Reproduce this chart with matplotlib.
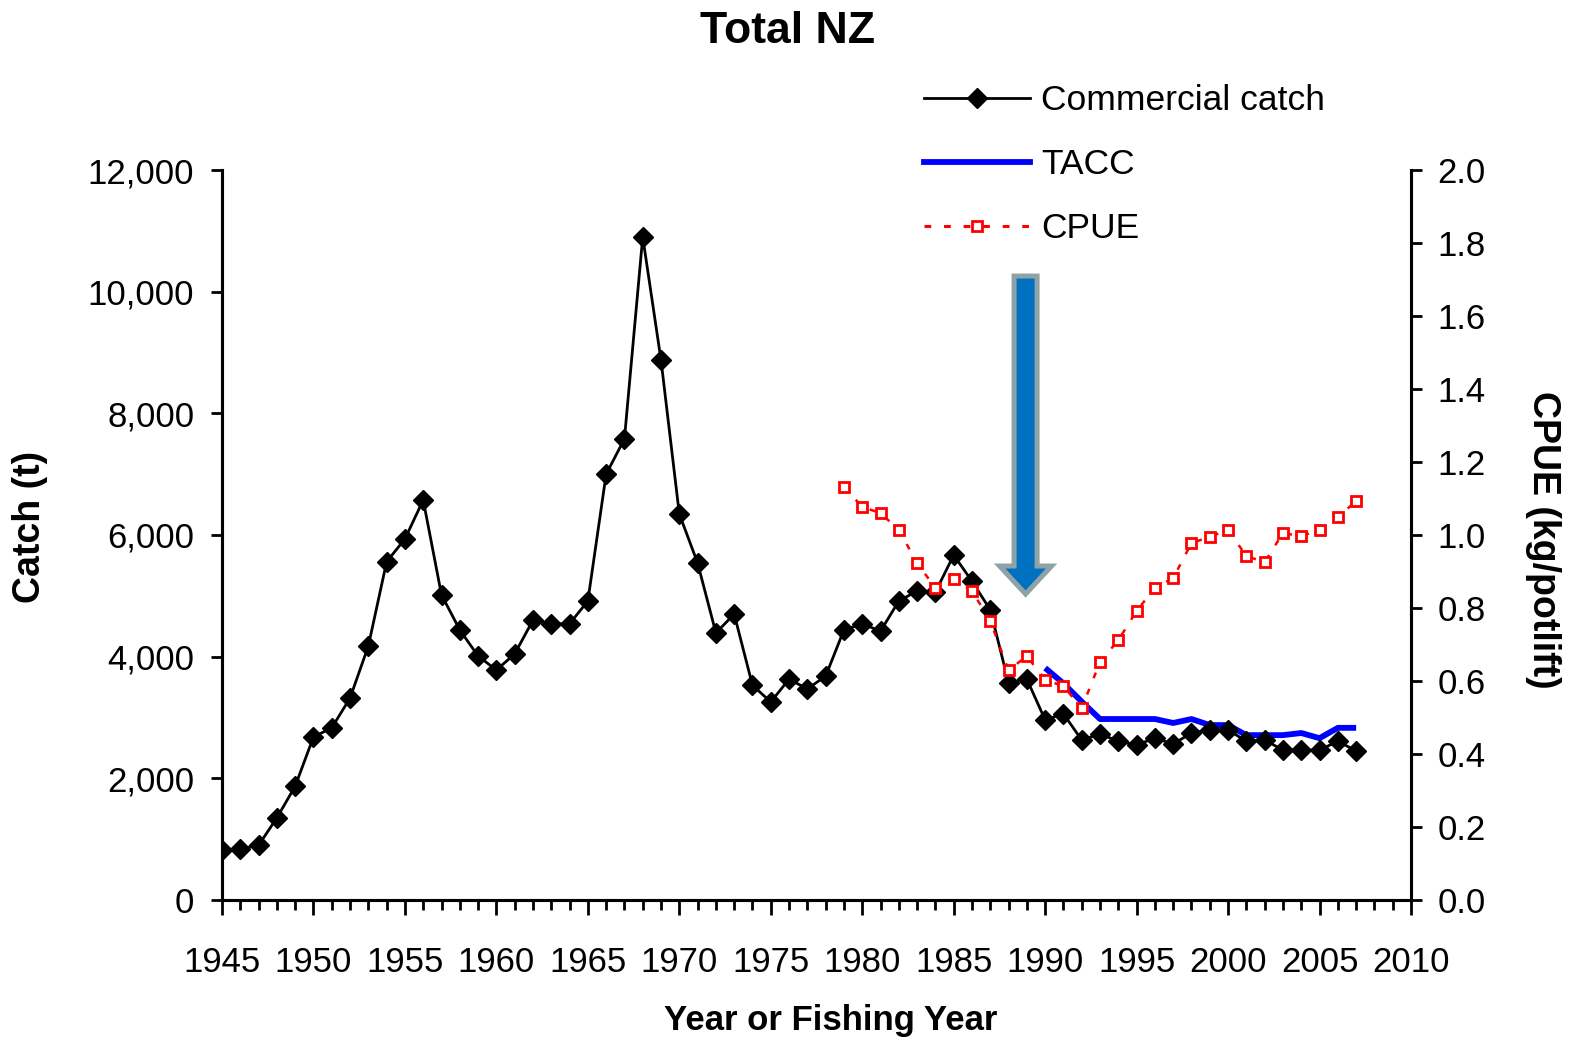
import matplotlib
matplotlib.use("Agg")
import matplotlib.pyplot as plt
from matplotlib.patches import Polygon
from matplotlib.lines import Line2D
from matplotlib.ticker import MultipleLocator, FuncFormatter

plt.rcParams['font.family'] = ['Liberation Sans', 'DejaVu Sans']

# ---- data ----
catch_years = list(range(1945, 2008))
catch = [820, 840, 900, 1350, 1870, 2680, 2830, 3320, 4175, 5560,
         5935, 6575, 5015, 4440, 4010, 3780, 4045, 4600, 4540, 4540,
         4915, 7000, 7580, 10900, 8875, 6345, 5540, 4390, 4700, 3530,
         3255, 3630, 3470, 3680, 4440, 4540, 4420, 4915, 5080, 5060,
         5670, 5240, 4770, 3570, 3630, 2960, 3060, 2630, 2730, 2610,
         2550, 2660, 2565, 2745, 2795, 2795, 2610, 2630, 2465, 2465,
         2465, 2610, 2450]

tacc_years = list(range(1990, 2008))
tacc = [3814, 3560, 3260, 2975, 2975, 2975, 2975, 2910, 2975, 2875,
        2875, 2710, 2710, 2710, 2745, 2660, 2830, 2830]

cpue_years = list(range(1979, 2008))
cpue = [1.132, 1.077, 1.060, 1.014, 0.923, 0.855, 0.879, 0.847, 0.764, 0.630,
        0.668, 0.603, 0.586, 0.526, 0.652, 0.712, 0.792, 0.855, 0.882, 0.978,
        0.995, 1.014, 0.942, 0.926, 1.005, 0.997, 1.014, 1.049, 1.093]

title = "Total NZ"
xlabel = "Year or Fishing Year"
ylabel_left = "Catch (t)"
ylabel_right = "CPUE (kg/potlift)"
labels = ["Commercial catch", "TACC", "CPUE"]

# arrow annotation (marks management change)
arrow_year = 1988.93
arrow_top = 10257
arrow_head_base = 5490
arrow_tip = 5030
shaft_half = 0.63
head_half = 1.42

# ---- figure ----
W, H = 1570, 1044
fig = plt.figure(figsize=(W / 100, H / 100), dpi=100)
ax = fig.add_axes([222 / W, 1 - 900 / H, (1411 - 222) / W, (900 - 170) / H])
ax2 = ax.twinx()

ax.plot(tacc_years, tacc, color='#0000FF', lw=4.2, solid_capstyle='butt', zorder=2)
ax.plot(catch_years, catch, color='black', lw=2, marker='D', ms=10.5,
        mfc='black', mec='black', zorder=3)
ax2.plot(cpue_years, cpue, color='#FF0000', lw=1.8, linestyle=(0, (2.4, 4.6)),
         marker='s', ms=7, mfc='white', mec='#FF0000', mew=2)

ax.set_xlim(1945, 2010)
ax.set_ylim(0, 12000)
ax2.set_ylim(0, 2.0)

ax.xaxis.set_major_locator(MultipleLocator(5))
ax.xaxis.set_minor_locator(MultipleLocator(1))
ax.yaxis.set_major_locator(MultipleLocator(2000))
ax2.yaxis.set_major_locator(MultipleLocator(0.2))
ax.yaxis.set_major_formatter(FuncFormatter(lambda v, p: f"{int(v):,}"))
ax2.yaxis.set_major_formatter(FuncFormatter(lambda v, p: f"{v:.1f}"))

for a in (ax, ax2):
    a.spines['top'].set_visible(False)
    for s in a.spines.values():
        s.set_linewidth(2.2)

ax.tick_params(axis='x', which='major', direction='out', length=11, width=2,
               labelsize=25, pad=22)
ax.tick_params(axis='x', which='minor', direction='out', length=7.5, width=2)
ax.tick_params(axis='y', which='major', direction='out', length=8, width=2,
               labelsize=25, pad=12)
ax2.tick_params(axis='y', which='major', direction='out', length=8, width=2,
                labelsize=25, pad=11)

bold_family = ['Liberation Sans Narrow', 'Liberation Sans', 'DejaVu Sans']
ax.set_xlabel(xlabel, fontsize=25, fontweight='bold', family=bold_family)
ax.xaxis.set_label_coords((831 - 222) / 1189, -(1004 - 900) / 730)
ax.set_ylabel(ylabel_left, fontsize=27, fontweight='bold', family=bold_family,
              va='center', ha='center')
ax.yaxis.set_label_coords((30 - 222) / 1189, (900 - 527) / 730)
ax2.set_ylabel(ylabel_right, fontsize=27, fontweight='bold', family=bold_family,
               rotation=270, va='center', ha='center')
ax2.yaxis.set_label_coords((1543 - 222) / 1189, (900 - 540) / 730)

fig.text(788 / W, 1 - 43 / H, title, ha='center', va='baseline',
         fontsize=32, fontweight='bold', family=bold_family)

# arrow
pts = [
    (arrow_year - shaft_half, arrow_top),
    (arrow_year + shaft_half, arrow_top),
    (arrow_year + shaft_half, arrow_head_base),
    (arrow_year + head_half, arrow_head_base),
    (arrow_year, arrow_tip),
    (arrow_year - head_half, arrow_head_base),
    (arrow_year - shaft_half, arrow_head_base),
]
ax.add_patch(Polygon(pts, closed=True, facecolor='#0070C0', edgecolor='#8FA3A7',
                     lw=3.6, joinstyle='miter', zorder=4))

handles = [
    Line2D([], [], color='black', lw=2, marker='D', ms=10.5, mfc='black'),
    Line2D([], [], color='#0000FF', lw=4.2),
    Line2D([], [], color='#FF0000', lw=2.2, linestyle=(0, (2.2, 4.2)), marker='s',
           ms=7, mfc='white', mec='#FF0000', mew=2),
]
fig.legend(handles, labels, loc='upper left', bbox_to_anchor=(924 / W, 1 - 84 / H),
           frameon=False, fontsize=25.5, handlelength=3.0, handletextpad=0.3,
           labelspacing=0.88, borderpad=0, borderaxespad=0, numpoints=1)

fig.savefig('out.png', dpi=100)
